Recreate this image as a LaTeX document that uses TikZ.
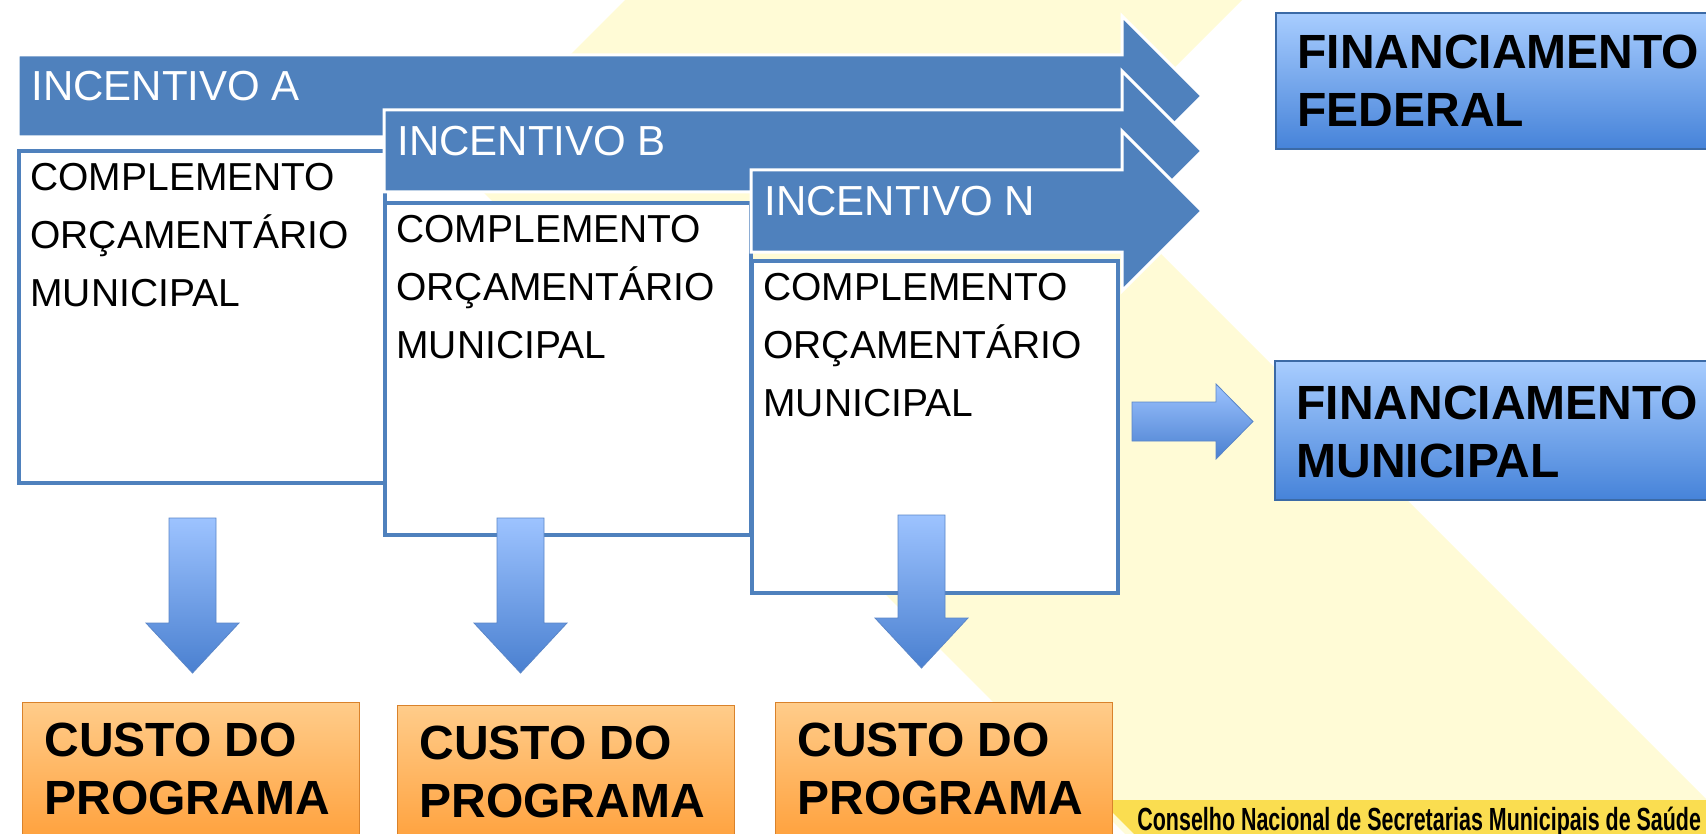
\documentclass[tikz,border=0pt]{standalone}
\usepackage{fontspec}
\setmainfont{Liberation Sans}
\usetikzlibrary{calc}
\definecolor{incblue}{HTML}{4F81BD}
\definecolor{bgyellow}{HTML}{FFFBD6}
\definecolor{stripgold}{HTML}{FADD50}
\definecolor{orangelight}{HTML}{FFCC8A}
\definecolor{orangedark}{HTML}{FF9A30}
\definecolor{orangeedge}{HTML}{D9822B}
\definecolor{finlight}{HTML}{A8CDFF}
\definecolor{findark}{HTML}{4683D9}
\definecolor{finedge}{HTML}{3B6AA6}
\definecolor{arrlight}{HTML}{9DC3FF}
\definecolor{arrdark}{HTML}{4A80D0}
\definecolor{arredge}{HTML}{5A86C8}
\tikzset{
    incarrow/.style={fill=incblue, draw=white, line width=1.5pt, line join=miter},
    inclabel/.style={anchor=base west, inner sep=0pt, text=white, font=\fontsize{21}{29}\selectfont},
    complbox/.style={anchor=north west, draw=incblue, line width=2pt, fill=white,
        minimum width=183pt, minimum height=166pt, inner sep=0pt},
    compltext/.style={anchor=north west, inner sep=0pt, align=left, font=\fontsize{19.5}{29}\selectfont},
    boldtext/.style={anchor=north west, inner sep=0pt, align=left, font=\bfseries\fontsize{24}{29}\selectfont},
    custobox/.style={anchor=north west, top color=orangelight, bottom color=orangedark, draw=orangeedge,
        line width=0.6pt, minimum width=168.5pt, minimum height=80pt, inner sep=0pt},
    finbox/.style={anchor=north west, top color=finlight, bottom color=findark, draw=finedge,
        line width=0.8pt, minimum width=230pt, minimum height=68pt, inner sep=0pt},
    striptext/.style={anchor=base west, inner sep=0pt, font=\bfseries\fontsize{16}{18}\selectfont},
    downblock/.style={top color=arrlight, bottom color=arrdark, draw=arredge, line width=0.4pt,
        to path={let \p1=(\tikztostart), \p2=(\tikztotarget) in
            (\x1-11.75pt,\y1) -- (\x1+11.75pt,\y1) -- (\x1+11.75pt,\y2+25pt) -- (\x1+23.25pt,\y2+25pt)
            -- (\x2,\y2) -- (\x1-23.25pt,\y2+25pt) -- (\x1-11.75pt,\y2+25pt) -- cycle}},
    rightblock/.style={top color=arrlight, bottom color=arrdark, draw=arredge, line width=0.4pt,
        to path={let \p1=(\tikztostart), \p2=(\tikztotarget) in
            (\x1,\y1+9.75pt) -- (\x2-18.5pt,\y1+9.75pt) -- (\x2-18.5pt,\y1+18.75pt) -- (\x2,\y2)
            -- (\x2-18.5pt,\y1-18.75pt) -- (\x2-18.5pt,\y1-9.75pt) -- (\x1,\y1-9.75pt) -- cycle}},
}
\begin{document}
\begin{tikzpicture}[x=0.5pt, y=-0.5pt]
    \useasboundingbox (0,0) rectangle (1706,834);
    \clip (0,0) rectangle (1706,834);
    % background
    \fill[bgyellow] (625,0) -- (1242,0) -- (1074.5,167.5) -- (1706,799) -- (1706,834)
        -- (1125,834) -- (458,167) -- cycle;
    \fill[stripgold] (1100,800) -- (1706,800) -- (1706,834) -- (1134,834) -- cycle;
    \node[striptext] (cnsms) at (1137,830)
        {\scalebox{0.67}[1]{Conselho Nacional de Secretarias Municipais de Saúde}};

    % incentives
    \foreach \nm/\bx/\by/\cy in {A/17/149/96, B/383/201/151, N/750/259/211}{
        \filldraw[incarrow] (\bx+1,\cy-41) -- (1122,\cy-41) -- (1122,\cy-80) -- (1202,\cy)
            -- (1122,\cy+80) -- (1122,\cy+41) -- (\bx+1,\cy+41) -- cycle;
        \node[inclabel] (inc\nm) at (\bx+14,\cy+5) {INCENTIVO \nm};
        \node[complbox] (box\nm) at (\bx,\by) {};
        \node[compltext] (txt\nm) at ([shift={(13,14)}]box\nm.north west)
            {COMPLEMENTO\\ORÇAMENTÁRIO\\MUNICIPAL};
    }

    % program costs
    \foreach \k/\cx/\cy in {1/22/702, 2/397/705, 3/775/702}{
        \node[custobox] (custo\k) at (\cx,\cy) {};
        \node[boldtext] (custotxt\k) at ([shift={(22,21)}]custo\k.north west) {CUSTO DO\\PROGRAMA};
    }

    % financing
    \node[finbox] (finfed) at (1275,12) {};
    \node[boldtext] (finfedtxt) at ([shift={(22,23)}]finfed.north west) {FINANCIAMENTO\\FEDERAL};
    \node[finbox, minimum height=69.5pt] (finmun) at (1274,360) {};
    \node[boldtext] (finmuntxt) at ([shift={(22,26)}]finmun.north west) {FINANCIAMENTO\\MUNICIPAL};

    % block arrows
    \coordinate (dn1) at (192.5,518);
    \coordinate (dn1-tip) at (192.5,673);
    \coordinate (dn2) at (520.5,518);
    \coordinate (dn2-tip) at (520.5,673);
    \coordinate (dn3) at (921.5,515);
    \coordinate (dn3-tip) at (921.5,668);
    \coordinate (rt) at (1132,421.5);
    \coordinate (rt-tip) at (1253,421.5);
    \path[downblock] (dn1) to (dn1-tip);
    \path[downblock] (dn2) to (dn2-tip);
    \path[downblock] (dn3) to (dn3-tip);
    \path[rightblock] (rt) to (rt-tip);
\end{tikzpicture}
\end{document}
